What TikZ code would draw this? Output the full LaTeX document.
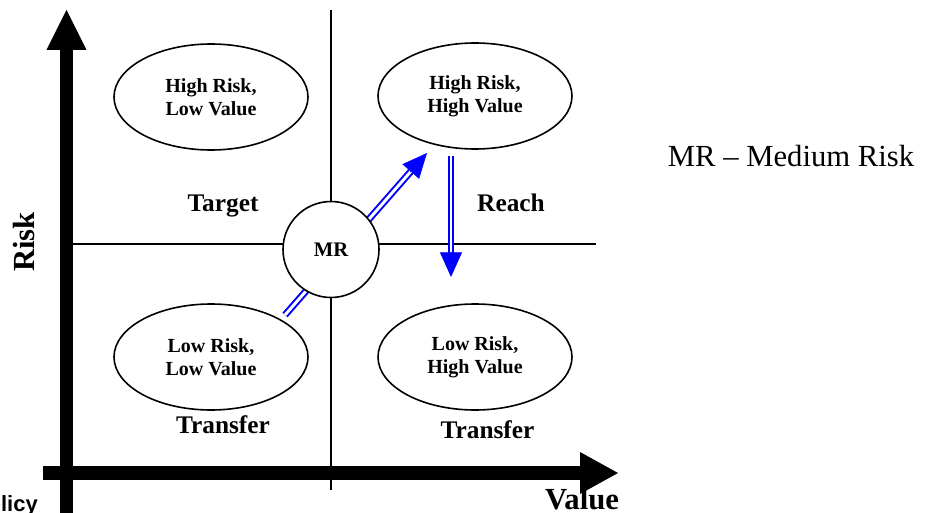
\documentclass[tikz,border=0pt]{standalone}
\usepackage{fontspec}
\setmainfont{Liberation Serif}
\newfontfamily\labelsans{Liberation Sans}
\usetikzlibrary{shapes.geometric,arrows.meta,calc}

\begin{document}
\begin{tikzpicture}[x=0.75pt,y=-0.75pt,
  gridline/.style={line width=1.1pt},
  quadbox/.style={ellipse, draw, line width=1.2pt, fill=white,
    minimum width=145.5pt, minimum height=79.5pt, inner sep=0pt,
    align=center, font=\fontsize{15}{17.25}\selectfont\bfseries},
  mrcircle/.style={circle, draw, line width=1.2pt, fill=white,
    minimum size=72pt, inner sep=0pt,
    font=\fontsize{15.5}{18}\selectfont\bfseries},
  zonelabel/.style={inner sep=0pt, font=\fontsize{19}{22}\selectfont\bfseries},
  axislabel/.style={inner sep=0pt, font=\fontsize{23}{26}\selectfont\bfseries},
  notelabel/.style={inner sep=0pt, font=\fontsize{23}{26}\selectfont},
  dblarrow/.style={draw=blue, double=white, line width=1.5pt, double distance=2.2pt},
  tiparrow/.style={blue, line width=0.6pt, -{Triangle[length=18.5pt,width=16.5pt]}}
]
\useasboundingbox (0,0) rectangle (930,513);

% thick axes
\fill (60,520) rectangle (73,50);
\fill (46.5,50) -- (86.5,50) -- (66.5,10) -- cycle;
\fill (43,466) rectangle (580,480);
\fill (580,452) -- (580,494) -- (618,473) -- cycle;

% quadrant dividers
\draw[gridline] (331,10) -- (331,490);
\draw[gridline] (73,244) -- (596,244);

% quadrant ellipses
\node[quadbox] (hl) at (211,97)  {High Risk,\\Low Value};
\node[quadbox] (hh) at (475,96)  {High Risk,\\High Value};
\node[quadbox] (ll) at (211,357) {Low Risk,\\Low Value};
\node[quadbox] (lh) at (475,357) {Low Risk,\\High Value};

% movement arrows
\coordinate (upS) at (285,315);
\coordinate (upT) at (427,153);
\draw[dblarrow, shorten >=17pt] (upS) -- (upT);
\draw[tiparrow] ($(upT)!19pt!(upS)$) -- (upT);

\coordinate (dnS) at (451,156);
\coordinate (dnT) at (451,277);
\draw[dblarrow, shorten >=17pt] (dnS) -- (dnT);
\draw[tiparrow] ($(dnT)!19pt!(dnS)$) -- (dnT);

% medium risk centre
\node[mrcircle] (mr) at (331,249.5) {MR};

% zone labels
\node[zonelabel, anchor=base] (target) at (223,212) {Target};
\node[zonelabel, anchor=base] (reach)  at (511,212) {Reach};
\node[zonelabel, anchor=base] (transL) at (223,433) {Transfer};
\node[zonelabel, anchor=base] (transR) at (487.5,438) {Transfer};

% axis labels and legend
\node[axislabel, rotate=90, anchor=base] (risk) at (34,242) {Risk};
\node[axislabel, anchor=base] (value) at (582,509) {Value};
\node[notelabel, anchor=base] (legend) at (791,166.7) {MR – Medium Risk};
\node[inner sep=0pt, anchor=base east, font=\labelsans\bfseries\fontsize{16.5}{18}\selectfont] (policy) at (38,511) {Policy};
\end{tikzpicture}
\end{document}
